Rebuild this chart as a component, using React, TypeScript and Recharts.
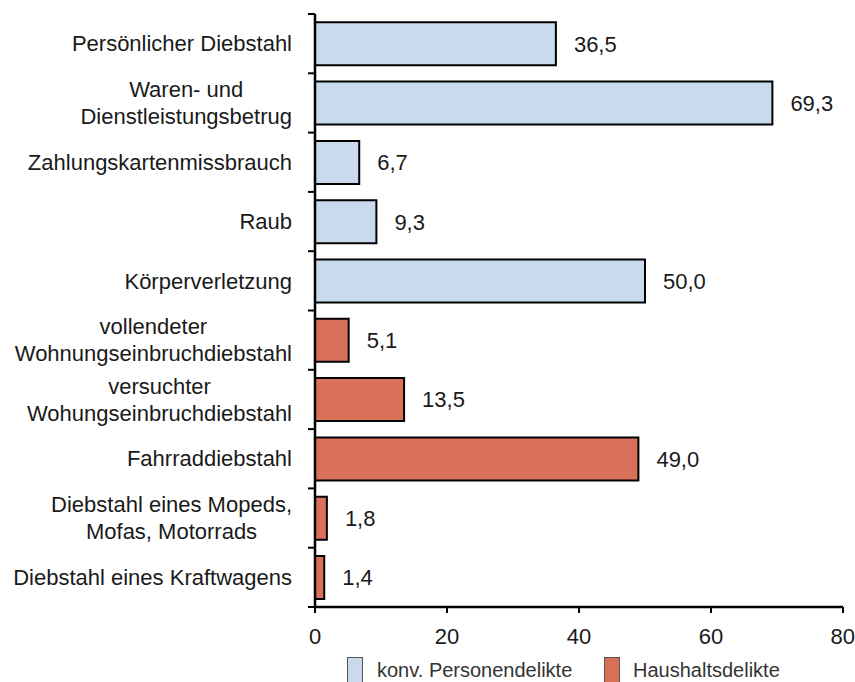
import { BarChart, Bar, Cell, XAxis, YAxis, LabelList } from "recharts";

const categories: string[][] = [
  ["Persönlicher Diebstahl"],
  ["Waren- und", "Dienstleistungsbetrug"],
  ["Zahlungskartenmissbrauch"],
  ["Raub"],
  ["Körperverletzung"],
  ["vollendeter", "Wohnungseinbruchdiebstahl"],
  ["versuchter", "Wohungseinbruchdiebstahl"],
  ["Fahrraddiebstahl"],
  ["Diebstahl eines Mopeds,", "Mofas, Motorrads"],
  ["Diebstahl eines Kraftwagens"],
];
const values = [36.5, 69.3, 6.7, 9.3, 50.0, 5.1, 13.5, 49.0, 1.8, 1.4];
const groups = [0, 0, 0, 0, 0, 1, 1, 1, 1, 1];
const groupNames = ["konv. Personendelikte", "Haushaltsdelikte"];
const xTicks = [0, 20, 40, 60, 80];

const COLORS = ["#c9daec", "#d9705a"];
const FONT = "Liberation Sans, Arial, Helvetica, sans-serif";
const TEXT = "#1a1a1a";

const W = 855;
const H = 682;
const MARGIN = { top: 14, right: 12, left: 0, bottom: 45 };
const X_AXIS_H = 30;
const Y_AXIS_W = 315;
const BAND = (H - MARGIN.top - MARGIN.bottom - X_AXIS_H) / categories.length;

const data = categories.map((c, i) => ({
  key: c.join(" "),
  value: values[i],
  group: groups[i],
}));

let ctx: CanvasRenderingContext2D | null = null;
const measure = (s: string) => {
  if (!ctx) ctx = document.createElement("canvas").getContext("2d");
  if (!ctx) return s.length * 11;
  ctx.font = `22px ${FONT}`;
  return ctx.measureText(s).width;
};

const YTick = (props: any) => {
  const { y, index } = props;
  const lines = categories[index] || [];
  const right = 292;
  const blockW = Math.max(...lines.map(measure));
  const cx = right - blockW / 2;
  const axisX = Y_AXIS_W;
  return (
    <g>
      <line x1={axisX - 7} x2={axisX} y1={y - BAND / 2} y2={y - BAND / 2} stroke="#000" strokeWidth={2} />
      {index === categories.length - 1 && (
        <line x1={axisX - 7} x2={axisX} y1={y + BAND / 2} y2={y + BAND / 2} stroke="#000" strokeWidth={2} />
      )}
      {lines.map((l, i) => (
        <text
          key={i}
          x={lines.length === 1 ? right : cx}
          y={y + (i - (lines.length - 1) / 2) * 27}
          dy="0.35em"
          textAnchor={lines.length === 1 ? "end" : "middle"}
          fontSize={22}
          fontFamily={FONT}
          fill={TEXT}
        >
          {l}
        </text>
      ))}
    </g>
  );
};

const fmt = (v: any) => Number(v).toFixed(1).replace(".", ",");

export default function App() {
  return (
    <div style={{ position: "absolute", left: 0, top: 0, width: W, height: H, overflow: "hidden", background: "#fff" }}>
      <BarChart width={W} height={H} data={data} layout="vertical" margin={MARGIN} barCategoryGap="14%">
        <XAxis
          type="number"
          domain={[0, 80]}
          ticks={xTicks}
          height={X_AXIS_H}
          tickSize={6}
          tickMargin={15}
          stroke="#000"
          strokeWidth={2.5}
          tickLine={{ stroke: "#000", strokeWidth: 2 }}
          tick={{ fontSize: 22, fontFamily: FONT, fill: TEXT }}
        />
        <YAxis
          type="category"
          dataKey="key"
          width={Y_AXIS_W}
          stroke="#000"
          strokeWidth={2.5}
          tickLine={false}
          tick={<YTick />}
          interval={0}
        />
        <Bar dataKey="value" stroke="#000" strokeWidth={2} isAnimationActive={false}>
          {data.map((d, i) => (
            <Cell key={i} fill={COLORS[d.group]} />
          ))}
          <LabelList
            dataKey="value"
            position="right"
            offset={18}
            formatter={fmt}
            style={{ fontSize: 22, fontFamily: FONT, fill: TEXT }}
          />
        </Bar>
      </BarChart>
      {groupNames.map((n, i) => (
        <div key={n}>
          <div
            style={{
              position: "absolute",
              left: [347, 604][i],
              top: 657,
              width: 14,
              height: 30,
              background: COLORS[i],
              border: "1.5px solid #555",
            }}
          />
          <div
            style={{
              position: "absolute",
              left: [377, 633][i],
              top: 659,
              fontSize: 20,
              lineHeight: "23px",
              fontFamily: FONT,
              color: "#333",
              whiteSpace: "nowrap",
            }}
          >
            {n}
          </div>
        </div>
      ))}
    </div>
  );
}
